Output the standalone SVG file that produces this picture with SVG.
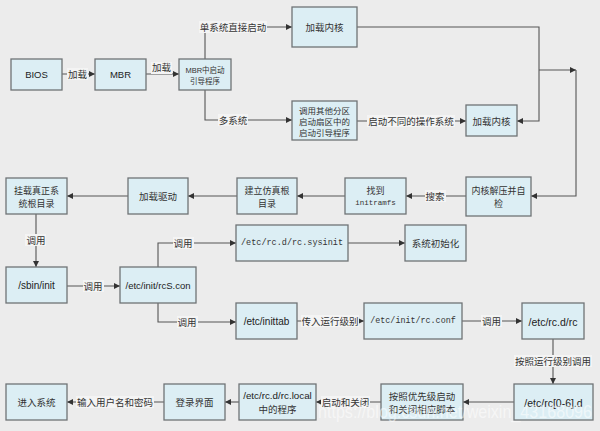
<svg xmlns="http://www.w3.org/2000/svg" width="600" height="431" viewBox="0 0 600 431">
<style>
.bg{fill:#ececec}
.box{fill:#dceef4;stroke:#6f7376;stroke-width:1.3}
.cn{font-family:"Noto Sans CJK SC","Noto Sans",sans-serif;fill:#333;text-anchor:middle;dominant-baseline:central}
.la{font-family:"Liberation Sans",Arial,sans-serif;fill:#222;text-anchor:middle;dominant-baseline:central}
.mo{font-family:"Liberation Mono","DejaVu Sans Mono",monospace;fill:#333;text-anchor:middle;dominant-baseline:central}
.ln{fill:none;stroke:#555;stroke-width:1.1}
.ar{marker-end:url(#ah)}
.lb{fill:#f4f4f4}
.lt{font-family:"Noto Sans CJK SC","Noto Sans",sans-serif;font-size:9.5px;fill:#333;text-anchor:middle;dominant-baseline:central}
</style>
<defs>
<marker id="ah" markerUnits="userSpaceOnUse" markerWidth="7" markerHeight="6" refX="6" refY="3" orient="auto">
<path d="M0,0 L6,3 L0,6 z" fill="#333"/>
</marker>
</defs>
<rect class="bg" x="0" y="0" width="600" height="431"/>

<g id="connectors">
<path class="ln ar" d="M62,74 H95"/>
<path class="ln ar" d="M146,74 H179"/>
<path class="ln ar" d="M205,59 V27 H292"/>
<path class="ln ar" d="M205,90 V120 H292"/>
<path class="ln ar" d="M357,27 H539 V121 H517"/>
<path class="ln ar" d="M539,70 H576"/>
<path class="ln ar" d="M576,70 V196 H531"/>
<path class="ln ar" d="M357,121 H466"/>
<path class="ln ar" d="M466,196 H406"/>
<path class="ln ar" d="M345,196 H297"/>
<path class="ln ar" d="M237,196 H188"/>
<path class="ln ar" d="M128,196 H67"/>
<path class="ln ar" d="M36,214 V267"/>
<path class="ln ar" d="M67,286 H120"/>
<path class="ln ar" d="M158,267 V243 H236"/>
<path class="ln ar" d="M348,243 H405"/>
<path class="ln ar" d="M158,303 V322 H236"/>
<path class="ln ar" d="M297,321 H364"/>
<path class="ln ar" d="M462,321 H522"/>
<path class="ln ar" d="M553,339 V384"/>
<path class="ln ar" d="M514,402 H463"/>
<path class="ln ar" d="M381,402 H316"/>
<path class="ln ar" d="M239,402 H225"/>
<path class="ln ar" d="M164,402 H67"/>

<rect class="lb" x="67" y="68" width="21" height="12"/><text class="lt" x="77.5" y="74">加载</text>
<rect class="lb" x="151" y="62" width="21" height="12"/><text class="lt" x="161.5" y="67">加载</text>
<rect class="lb" x="199" y="21" width="68" height="12"/><text class="lt" x="233" y="27">单系统直接启动</text>
<rect class="lb" x="218" y="114" width="30" height="12"/><text class="lt" x="233" y="120">多系统</text>
<rect class="lb" x="367" y="115" width="88" height="12"/><text class="lt" x="411" y="121">启动不同的操作系统</text>
<rect class="lb" x="425" y="190" width="21" height="12"/><text class="lt" x="435" y="196">搜索</text>
<rect class="lb" x="25" y="234" width="21" height="12"/><text class="lt" x="36" y="240">调用</text>
<rect class="lb" x="83" y="280" width="21" height="12"/><text class="lt" x="93" y="286">调用</text>
<rect class="lb" x="173" y="237" width="21" height="12"/><text class="lt" x="183" y="243">调用</text>
<rect class="lb" x="177" y="316" width="21" height="12"/><text class="lt" x="187" y="322">调用</text>
<rect class="lb" x="301" y="315" width="58" height="12"/><text class="lt" x="330" y="321">传入运行级别</text>
<rect class="lb" x="481" y="315" width="21" height="12"/><text class="lt" x="491.5" y="321">调用</text>
<rect class="lb" x="514" y="355" width="78" height="12"/><text class="lt" x="553" y="361">按照运行级别调用</text>
<rect class="lb" x="321" y="396" width="49" height="12"/><text class="lt" x="345.5" y="402">启动和关闭</text>
<rect class="lb" x="76" y="396" width="78" height="12"/><text class="lt" x="115" y="402">输入用户名和密码</text>
</g>

<g id="bios"><rect class="box" x="11" y="59" width="51" height="31"/><text class="la" x="36.5" y="74.5" font-size="9.5">BIOS</text></g>
<g id="mbr"><rect class="box" x="95" y="59" width="51" height="31"/><text class="la" x="120.5" y="74.5" font-size="9.5">MBR</text></g>
<g id="mbrboot"><rect class="box" x="179" y="59" width="52" height="31"/>
<text class="cn" x="205" y="69.5" font-size="7.5"><tspan font-family="Liberation Sans,Arial,sans-serif">MBR</tspan>中启动</text>
<text class="cn" x="205" y="80" font-size="7.5">引导程序</text></g>
<g id="kernel1"><rect class="box" x="292" y="7" width="65" height="40"/><text class="cn" x="324.5" y="27" font-size="9.5">加载内核</text></g>
<g id="otherpart"><rect class="box" x="292" y="101" width="65" height="39"/>
<text class="cn" x="324.5" y="109.5" font-size="8.5">调用其他分区</text>
<text class="cn" x="324.5" y="120.5" font-size="8.5">启动扇区中的</text>
<text class="cn" x="324.5" y="131.5" font-size="8.5">启动引导程序</text></g>
<g id="kernel2"><rect class="box" x="466" y="105" width="51" height="31"/><text class="cn" x="491.5" y="120.5" font-size="9.5">加载内核</text></g>
<g id="decompress"><rect class="box" x="466" y="177" width="65" height="39"/>
<text class="cn" x="498.5" y="190.5" font-size="9">内核解压并自</text>
<text class="cn" x="498.5" y="203.5" font-size="9">检</text></g>
<g id="initramfs"><rect class="box" x="345" y="178" width="61" height="36"/>
<text class="cn" x="375.5" y="190" font-size="9">找到</text>
<text class="mo" x="375.5" y="203" font-size="7.5">initramfs</text></g>
<g id="fakeroot"><rect class="box" x="237" y="178" width="60" height="36"/>
<text class="cn" x="267" y="190" font-size="9">建立仿真根</text>
<text class="cn" x="267" y="203" font-size="9">目录</text></g>
<g id="drivers"><rect class="box" x="128" y="178" width="60" height="36"/><text class="cn" x="158" y="196" font-size="9.5">加载驱动</text></g>
<g id="mountroot"><rect class="box" x="6" y="178" width="61" height="36"/>
<text class="cn" x="36.5" y="190" font-size="9">挂载真正系</text>
<text class="cn" x="36.5" y="203" font-size="9">统根目录</text></g>
<g id="sbininit"><rect class="box" x="6" y="267" width="61" height="36"/><text class="la" x="36.5" y="285.5" font-size="10">/sbin/init</text></g>
<g id="rcscon"><rect class="box" x="120" y="267" width="76" height="36"/><text class="la" x="158" y="285.5" font-size="9.5">/etc/init/rcS.con</text></g>
<g id="sysinit"><rect class="box" x="236" y="225" width="112" height="36"/><text class="mo" x="292" y="243" font-size="8.5">/etc/rc.d/rc.sysinit</text></g>
<g id="sysinitdone"><rect class="box" x="405" y="225" width="61" height="36"/><text class="cn" x="435.5" y="243" font-size="9.5">系统初始化</text></g>
<g id="inittab"><rect class="box" x="236" y="303" width="61" height="36"/><text class="la" x="266.5" y="321.5" font-size="10">/etc/inittab</text></g>
<g id="rcconf"><rect class="box" x="364" y="303" width="98" height="36"/><text class="mo" x="413" y="321" font-size="8.4">/etc/init/rc.conf</text></g>
<g id="rcd"><rect class="box" x="522" y="303" width="62" height="36"/><text class="la" x="553" y="321.5" font-size="10.5">/etc/rc.d/rc</text></g>
<g id="rc06"><rect class="box" x="514" y="384" width="79" height="36"/><text class="la" x="553.5" y="402.5" font-size="10.5">/etc/rc[0-6].d</text></g>
<g id="scripts"><rect class="box" x="381" y="384" width="82" height="36"/>
<text class="cn" x="422" y="395.5" font-size="9.5">按照优先级启动</text>
<text class="cn" x="422" y="409" font-size="9.5">和关闭相应脚本</text></g>
<g id="rclocal"><rect class="box" x="239" y="384" width="77" height="36"/>
<text class="la" x="277.5" y="395.5" font-size="9.8">/etc/rc.d/rc.local</text>
<text class="cn" x="277.5" y="409" font-size="9.5">中的程序</text></g>
<g id="login"><rect class="box" x="164" y="384" width="61" height="36"/><text class="cn" x="194.5" y="402" font-size="9.5">登录界面</text></g>
<g id="enter"><rect class="box" x="6" y="384" width="61" height="36"/><text class="cn" x="36.5" y="402" font-size="9.5">进入系统</text></g>

<text x="318" y="418" font-family="Liberation Sans,Arial,sans-serif" font-size="19" textLength="274" lengthAdjust="spacingAndGlyphs" fill="#ffffff" fill-opacity="0.55">https://blog.csdn.net/weixin_43168096</text>
</svg>
